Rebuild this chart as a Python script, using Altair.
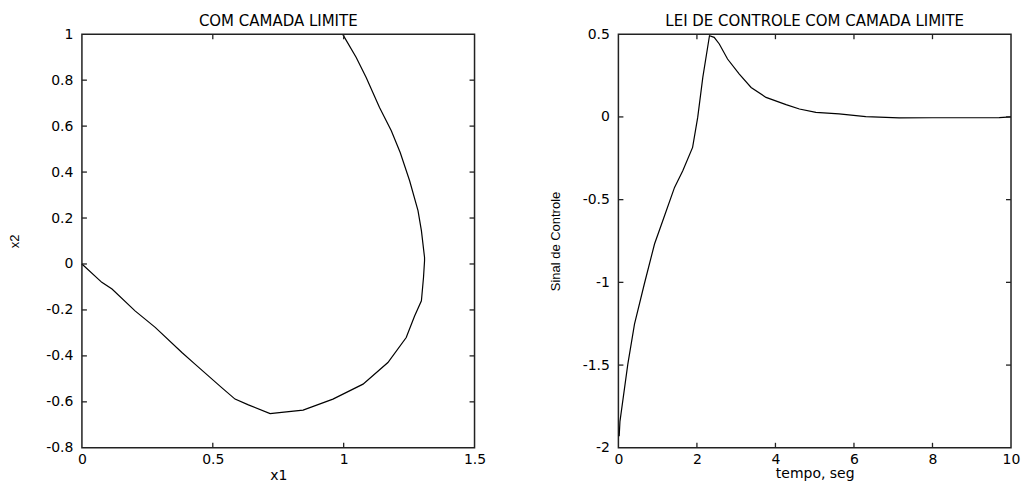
import altair as alt
import pandas as pd

# Phase-plane trajectory (x1, x2), in the order it is traversed
x1 = [0.997, 1.048, 1.086, 1.137, 1.182, 1.216, 1.252, 1.284, 1.297, 1.309,
      1.309, 1.305, 1.297, 1.271, 1.239, 1.169, 1.074, 0.959, 0.845, 0.763,
      0.719, 0.636, 0.585, 0.534, 0.432, 0.382, 0.280, 0.203, 0.115, 0.076, 0.0]
x2 = [0.998, 0.899, 0.812, 0.681, 0.580, 0.485, 0.362, 0.232, 0.145, 0.028,
      0.014, -0.059, -0.160, -0.226, -0.320, -0.429, -0.523, -0.588, -0.636, -0.646,
      -0.651, -0.613, -0.588, -0.538, -0.436, -0.385, -0.276, -0.204, -0.109, -0.080, 0.0]

# Control signal over time
tempo = [0.02, 0.04, 0.24, 0.41, 0.66, 0.92, 1.13, 1.43, 1.64, 1.89, 2.02, 2.15,
         2.32, 2.44, 2.57, 2.78, 3.08, 3.38, 3.76, 4.27, 4.61, 5.03, 5.62, 6.30,
         7.15, 8.00, 9.00, 9.70, 10.0]
sinal = [-1.93, -1.84, -1.494, -1.252, -1.010, -0.768, -0.628, -0.426, -0.325,
         -0.184, -0.003, 0.239, 0.491, 0.481, 0.441, 0.350, 0.259, 0.178, 0.118,
         0.074, 0.048, 0.027, 0.018, 0.002, -0.006, -0.005, -0.005, -0.004, 0.0]

# Tick positions (drawn inward on all four sides of each frame)
x1_ticks = [0.5, 1.0]
x2_ticks = [-0.6, -0.4, -0.2, 0.0, 0.2, 0.4, 0.6, 0.8]
tempo_ticks = [2, 4, 6, 8]
sinal_ticks = [-1.5, -1.0, -0.5, 0.0]

W, H, TL = 393, 414, 5
FONT = "DejaVu Sans"
LINE = "#000000"
PLAIN = "'' + datum.value"  # plain number text: 1, 0.5, -0.8


def panel(df, xf, yf, xdom, ydom, xt, yt, xtitle, ytitle, title,
          ytitle_x, xtitle_y, ordered):
    xenc = alt.X(f"{xf}:Q", scale=alt.Scale(domain=xdom, nice=False, zero=False),
                 title=xtitle,
                 axis=alt.Axis(values=[xdom[0]] + xt + [xdom[1]], titleY=xtitle_y,
                               titleBaseline="alphabetic", labelExpr=PLAIN,
                               labelFlush=False))
    yenc = alt.Y(f"{yf}:Q", scale=alt.Scale(domain=ydom, nice=False, zero=False),
                 title=ytitle,
                 axis=alt.Axis(values=[ydom[0]] + yt + [ydom[1]], titleX=ytitle_x,
                               titleY=H / 2, titleBaseline="middle", labelExpr=PLAIN,
                               labelFlush=False))
    enc = dict(x=xenc, y=yenc)
    if ordered:
        enc["order"] = alt.Order("i:Q")
    line = alt.Chart(df).mark_line(color=LINE, strokeWidth=1.2).encode(**enc)

    xdf = pd.DataFrame({xf: xt})
    ydf = pd.DataFrame({yf: yt})
    tick = dict(color="#222222", strokeWidth=1.3)
    bottom = alt.Chart(xdf).mark_rule(**tick).encode(
        x=xenc, y=alt.value(H), y2=alt.value(H - TL))
    top = alt.Chart(xdf).mark_rule(**tick).encode(
        x=xenc, y=alt.value(0), y2=alt.value(TL))
    left = alt.Chart(ydf).mark_rule(**tick).encode(
        y=yenc, x=alt.value(0), x2=alt.value(TL))
    right = alt.Chart(ydf).mark_rule(**tick).encode(
        y=yenc, x=alt.value(W), x2=alt.value(W - TL))
    return alt.layer(line, bottom, top, left, right).properties(
        width=W, height=H,
        title=alt.TitleParams(title, anchor="middle", frame="group", offset=-1.5,
                              fontSize=15, font=FONT, fontWeight="normal",
                              color="#000000"),
    )


df1 = pd.DataFrame({"x1": x1, "x2": x2, "i": list(range(len(x1)))})
df2 = pd.DataFrame({"tempo": tempo, "sinal": sinal})

p1 = panel(df1, "x1", "x2", [0, 1.5], [-0.8, 1.0], x1_ticks, x2_ticks,
           "x1", "x2", "COM CAMADA LIMITE", -67, 32, True)
p2 = panel(df2, "tempo", "sinal", [0, 10], [-2, 0.5], tempo_ticks, sinal_ticks,
           "tempo, seg", "Sinal de Controle", "LEI DE CONTROLE COM CAMADA LIMITE",
           -63, 30, False)

chart = alt.hconcat(p1, p2, spacing=144, bounds="flush").properties(
    padding={"left": 8, "top": 12, "right": 5, "bottom": 2},
    background="white",
).configure_view(
    stroke="#222222", strokeWidth=1.5
).configure_axis(
    ticks=False, domain=False, grid=False,
    labelFont=FONT, labelFontSize=14, labelColor="#000000", labelPadding=8,
    titleFont="Liberation Sans", titleFontSize=13, titleFontWeight="normal",
    titleColor="#000000",
).configure_axisX(
    titleFont=FONT, titleFontSize=14, labelPadding=5,
).configure_axisY(
    labelPadding=9,
)

chart.save("out.html", embed_options={"renderer": "svg", "actions": False})
